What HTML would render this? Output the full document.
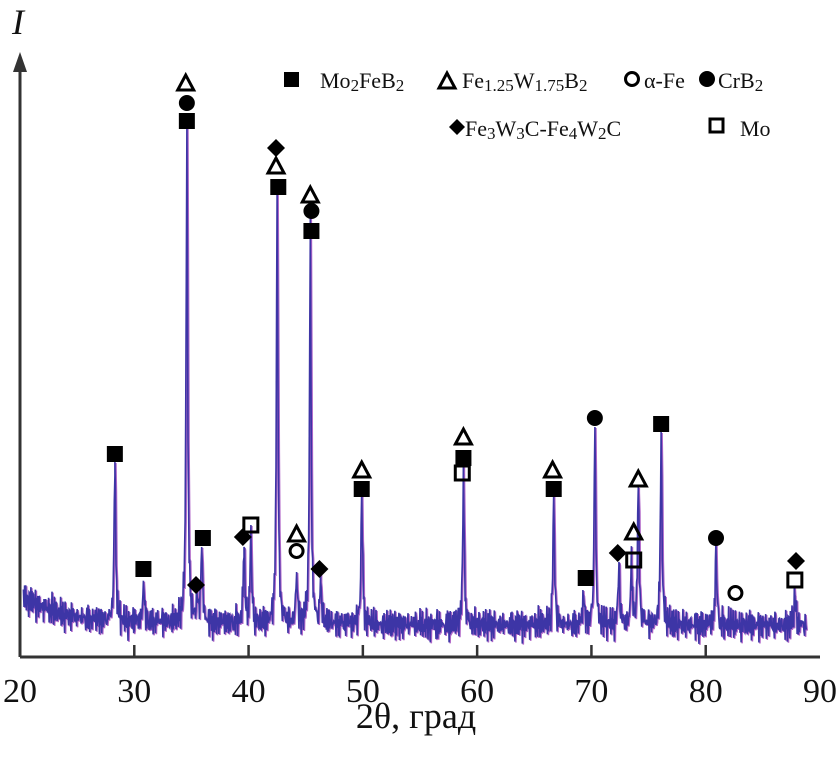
<!DOCTYPE html>
<html><head><meta charset="utf-8"><style>
html,body{margin:0;padding:0;background:#fff;width:839px;height:764px;overflow:hidden}
svg text{font-family:"Liberation Serif","DejaVu Serif",serif;fill:#111}
</style></head><body>
<svg id="chart" width="839" height="764" viewBox="0 0 839 764" xmlns="http://www.w3.org/2000/svg">
<g id="axes"></g>
<g id="series"></g>
<g id="markers"></g>
<g id="legend">
 <rect x="284" y="72" width="15" height="15" fill="#000"/>
 <text x="320" y="88" font-size="22">Mo<tspan font-size="17" dy="3">2</tspan><tspan dy="-3">FeB</tspan><tspan font-size="17" dy="3">2</tspan></text>
 <path d="M439,88 L447,73 L455,88 Z" fill="none" stroke="#000" stroke-width="3"/>
 <text x="462" y="88" font-size="22">Fe<tspan font-size="17" dy="3">1.25</tspan><tspan dy="-3">W</tspan><tspan font-size="17" dy="3">1.75</tspan><tspan dy="-3">B</tspan><tspan font-size="17" dy="3">2</tspan></text>
 <circle cx="632" cy="79" r="6.5" fill="none" stroke="#000" stroke-width="3"/>
 <text x="644" y="88" font-size="22">α-Fe</text>
 <circle cx="707" cy="79" r="8" fill="#000"/>
 <text x="718" y="88" font-size="22">CrB<tspan font-size="17" dy="3">2</tspan></text>
 <path d="M449,127 L457,119 L465,127 L457,135 Z" fill="#000"/>
 <text x="465" y="136" font-size="22">Fe<tspan font-size="17" dy="3">3</tspan><tspan dy="-3">W</tspan><tspan font-size="17" dy="3">3</tspan><tspan dy="-3">C-Fe</tspan><tspan font-size="17" dy="3">4</tspan><tspan dy="-3">W</tspan><tspan font-size="17" dy="3">2</tspan><tspan dy="-3">C</tspan></text>
 <rect x="710" y="119" width="13" height="13" fill="none" stroke="#000" stroke-width="3"/>
 <text x="740" y="136" font-size="22">Mo</text>
</g>
</svg>
<script>
const xTicks=[20,30,40,50,60,70,80,90];
const peakPos=[28.3,30.8,34.6,35.5,35.9,39.6,40.2,42.5,44.2,45.4,46.3,49.9,58.8,66.7,69.3,70.3,72.4,73.5,74.1,76.1,80.9,87.8];
const peakInt=[195,75,530,62,110,110,125,465,85,420,75,165,185,160,62,230,95,95,170,225,110,62];
const baseline=[62,55,50,45,42,40,38,37,36,35,35,35,35,35,34,34,34,34,34,34,33,33,33,33,33,33,33,33,33,33,33,32,32,32,32,32,32,32,32,32,32,32,32,32,32,32,32,32,32,32,32,32,32,32,32,32,32,32,32,32,32,32,32,32,32,32,32,32,32,32,32];
const noiseA=[0.3,-0.6,0.9,-0.2,0.5,-0.9,0.1,0.7,-0.4,-0.8,0.6,0.2,-0.5,1.0,-0.3,0.4,-0.7,0.8,-0.1,-0.6,0.5,0.9,-0.9,0.2,-0.3,0.6,-0.5,0.1,0.8,-0.8,0.4,-0.2,0.7,-0.4,0.0,-1.0,0.5];
const noiseB=[0.5,-0.3,0.2,-0.8,0.9,-0.1,0.4,-0.6,0.7,-0.9,0.1,0.6,-0.4,0.3,-0.7,0.8,-0.2,0.0,-0.5,0.9,-0.3,0.4,-1.0];
const markers=[
['sq',28.3,203],['sq',30.8,88],['sq',34.6,536],['sq',36.0,119],['sq',42.6,470],['sq',45.5,426],['sq',49.9,168],['sq',58.8,199],['sq',66.7,168],['sq',69.5,79],['sq',76.1,233],
['tri',34.5,574],['tri',42.4,491],['tri',45.4,462],['tri',44.2,123],['tri',49.9,187],['tri',58.8,220],['tri',66.6,187],['tri',73.7,125],['tri',74.1,178],
['dot',34.6,554],['dot',45.5,446],['dot',70.3,239],['dot',80.9,119],
['circ',44.2,106],['circ',82.6,64],
['dia',35.4,72],['dia',39.5,120],['dia',42.4,509],['dia',46.2,88],['dia',72.3,104],['dia',87.9,96],
['osq',40.2,132],['osq',58.7,184],['osq',73.7,97],['osq',87.8,77]
];
const X=v=>20+(v-20)*(800/70);
const Y=v=>657-v;
const NS='http://www.w3.org/2000/svg';
function mk(t,a,p){const e=document.createElementNS(NS,t);for(const k in a)e.setAttribute(k,a[k]);p.appendChild(e);return e;}
const ax=document.getElementById('axes');
let e=mk('path',{d:'M20,657 L20,62 M820,657 L20,657',stroke:'#333','stroke-width':3,fill:'none'},ax);


e=mk('path',{d:'M13,72 L20,52 L27,72 Z',fill:'#333'},ax);


e=mk('text',{x:12,y:34,'font-size':36,'font-style':'italic'},ax);e.textContent='I';


e=mk('text',{x:416,y:728,'font-size':36,'text-anchor':'middle'},ax);e.textContent='2θ, град';


xTicks.forEach(t=>{
 const x=X(t);
 if(t>20&&t<90){const l=mk('line',{x1:x,x2:x,y1:657,y2:645,stroke:'#333','stroke-width':2.5},ax);
 
 }
 const tx=mk('text',{x:x,y:702,'font-size':34,'text-anchor':'middle'},ax);tx.textContent=t;
 
 
});
function intensity(th,i){
 const b0=Math.floor(th-20),f=th-20-b0;
 const b=baseline[Math.min(b0,baseline.length-1)]*(1-f)+baseline[Math.min(b0+1,baseline.length-1)]*f;
 let v=b+12*noiseA[i%noiseA.length]+8*noiseB[i%noiseB.length];
 peakPos.forEach((p,k)=>{const d=(th-p)/0.08;v+=(peakInt[k]-b)/(1+d*d);});
 return v;
}
const pts=[];
for(let i=0;i<=1370;i++){pts.push([20.3+i*0.05,i]);}
peakPos.forEach((p,k)=>pts.push([p,-1]));
pts.sort((a,b)=>a[0]-b[0]);
let d1='',d2='';
pts.forEach((q,j)=>{const th=q[0];const v=q[1]<0?peakPos.indexOf(th)>=0?peakInt[peakPos.indexOf(th)]:0:intensity(th,q[1]);
 d1+=(j?'L':'M')+X(th).toFixed(1)+','+Y(v).toFixed(1);
 d2+=(j?'L':'M')+(X(th)+1).toFixed(1)+','+(Y(v)+1).toFixed(1);});
const sg=document.getElementById('series');
e=mk('path',{d:d2,stroke:'#b066c8','stroke-width':1.6,fill:'none'},sg);


e=mk('path',{d:d1,stroke:'#3d35a6','stroke-width':1.6,fill:'none'},sg);


const mg=document.getElementById('markers');
markers.forEach(m=>{
 const x=X(m[1]),y=Y(m[2]);let s;
 if(m[0]==='sq')s=mk('rect',{x:x-8,y:y-8,width:16,height:16,fill:'#000'},mg);
 else if(m[0]==='osq')s=mk('rect',{x:x-7,y:y-7,width:14,height:14,fill:'none',stroke:'#000','stroke-width':3},mg);
 else if(m[0]==='tri')s=mk('path',{d:`M${x-8},${y+7} L${x},${y-8} L${x+8},${y+7} Z`,fill:'none',stroke:'#000','stroke-width':3},mg);
 else if(m[0]==='dot')s=mk('circle',{cx:x,cy:y,r:8,fill:'#000'},mg);
 else if(m[0]==='circ')s=mk('circle',{cx:x,cy:y,r:6.5,fill:'none',stroke:'#000','stroke-width':3},mg);
 else s=mk('path',{d:`M${x-9},${y} L${x},${y-9} L${x+9},${y} L${x},${y+9} Z`,fill:'#000'},mg);
 
 
});
</script>
</body></html>
